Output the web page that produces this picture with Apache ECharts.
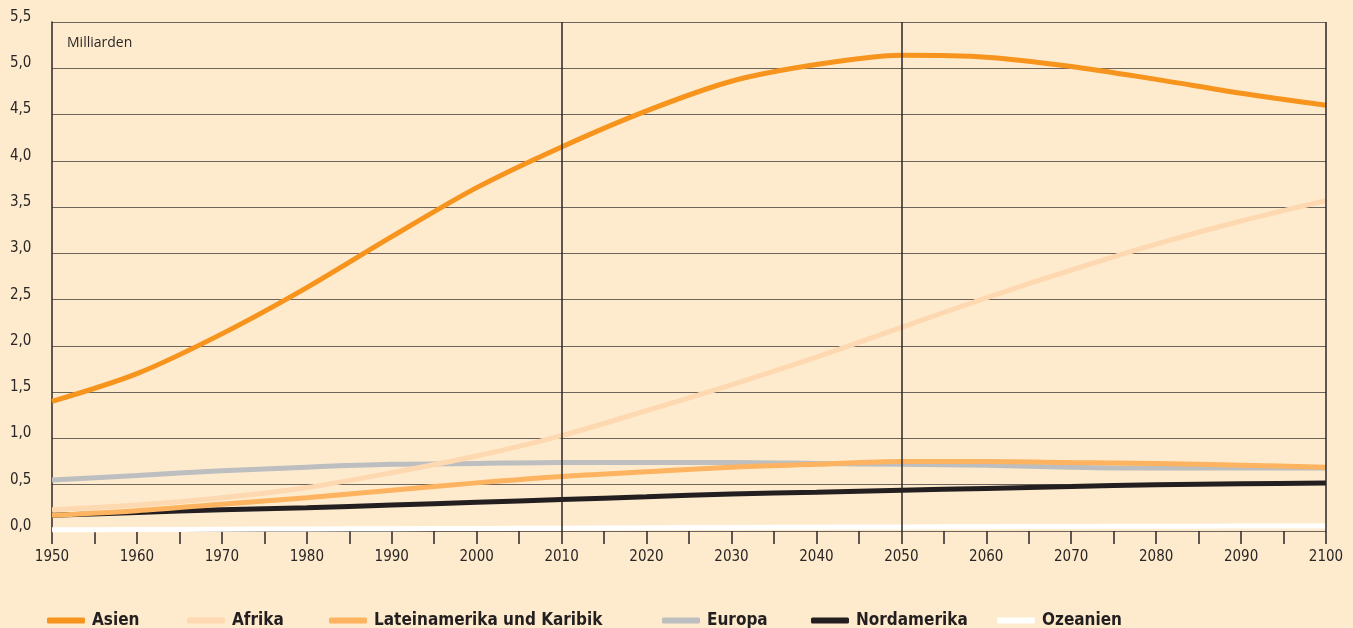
<!DOCTYPE html>
<html>
<head>
<meta charset="utf-8">
<script src="https://cdn.jsdelivr.net/npm/echarts@6/dist/echarts.min.js"></script>
<style>
html,body{margin:0;padding:0;background:#FEEBCD;}
#c{width:1353px;height:628px;}
</style>
</head>
<body>
<div id="c"></div>
<script>
const years = [1950,1960,1970,1980,1990,2000,2010,2020,2030,2040,2050,2060,2070,2080,2090,2100];
const asien = [1.40,1.70,2.13,2.63,3.18,3.71,4.15,4.54,4.86,5.04,5.14,5.12,5.02,4.88,4.73,4.60];
const afrika = [0.23,0.28,0.36,0.47,0.63,0.81,1.03,1.30,1.58,1.88,2.20,2.52,2.82,3.10,3.35,3.57];
const latein = [0.17,0.22,0.29,0.36,0.44,0.52,0.59,0.64,0.69,0.72,0.75,0.75,0.74,0.73,0.71,0.69];
const europa = [0.55,0.60,0.65,0.69,0.72,0.73,0.74,0.74,0.74,0.73,0.72,0.71,0.69,0.68,0.68,0.68];
const nordamerika = [0.17,0.20,0.23,0.25,0.28,0.31,0.34,0.37,0.40,0.42,0.44,0.46,0.48,0.50,0.51,0.52];
const ozeanien = [0.013,0.016,0.019,0.022,0.025,0.028,0.031,0.035,0.038,0.041,0.044,0.047,0.049,0.051,0.053,0.055];
const yTickLabel = v => v.toFixed(1).replace('.', ',');

const pairs = arr => years.map((y, i) => [y, arr[i]]);
const FONT = "'Liberation Sans Narrow','DejaVu Sans Condensed','Liberation Sans',sans-serif";
const chart = echarts.init(document.getElementById('c'));

const seriesDefs = [
  {name:'Ozeanien', data:ozeanien, color:'#FFFFFF'},
  {name:'Nordamerika', data:nordamerika, color:'#231F20'},
  {name:'Europa', data:europa, color:'#BDBEC0'},
  {name:'Lateinamerika und Karibik', data:latein, color:'#FDB35F'},
  {name:'Afrika', data:afrika, color:'#FDD8B0'},
  {name:'Asien', data:asien, color:'#F7941D'}
];

const legendPos = [
  {name:'Asien', left:47},
  {name:'Afrika', left:187},
  {name:'Lateinamerika und Karibik', left:329},
  {name:'Europa', left:662},
  {name:'Nordamerika', left:811},
  {name:'Ozeanien', left:997}
];

const option = {
  backgroundColor:'#FEEBCD',
  animation:false,
  grid:{left:52, right:27, top:22, bottom:97},
  graphic:[{type:'text', left:67, top:36, style:{text:'Milliarden', font:"14px 'Open Sans','Liberation Sans',sans-serif", fill:'#2a2626'}}],
  legend: legendPos.map(l => ({
    data:[l.name], left:l.left, top:612, itemWidth:38, itemHeight:6, icon:'roundRect',
    itemGap:0, padding:0,
    textStyle:{fontFamily:FONT, fontWeight:'bold', fontSize:17, color:'#231F20', padding:[0,0,0,2]}
  })),
  xAxis:{
    type:'value', min:1950, max:2100, interval:5,
    axisLine:{show:false},
    axisTick:{show:true, length:13, lineStyle:{color:'#2a2626', width:1.5}},
    splitLine:{show:false},
    axisLabel:{margin:19, fontFamily:FONT, fontSize:15, color:'#2a2626',
      formatter: v => (v % 10 === 0 ? String(v) : '')}
  },
  yAxis:{
    type:'value', min:0, max:5.5, interval:0.5,
    axisLine:{show:true, lineStyle:{color:'#2a2626', width:1.5}},
    axisTick:{show:false},
    splitLine:{show:true, lineStyle:{color:'#6d645c', width:1.2}},
    axisLabel:{align:'left', margin:42, verticalAlign:'bottom', lineHeight:10, fontFamily:FONT, fontSize:15, color:'#2a2626',
      formatter: v => yTickLabel(v)}
  },
  series:[
    {type:'line', name:'_grid', data:[], silent:true, z:1,
      markLine:{silent:true, symbol:'none', label:{show:false},
        lineStyle:{color:'#2a2626', width:1.5, type:'solid'},
        data:[{xAxis:2010},{xAxis:2050},{xAxis:2100}]}}
  ].concat(seriesDefs.map(s => ({
    type:'line', name:s.name, data:pairs(s.data), smooth:0.3, showSymbol:false, symbol:'none',
    z:3, lineStyle:{color:s.color, width:5}, itemStyle:{color:s.color}, clip:false
  })))
};
chart.setOption(option);
</script>
</body>
</html>
